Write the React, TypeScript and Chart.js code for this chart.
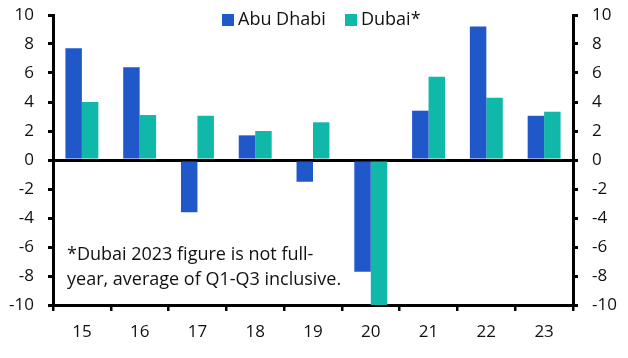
import React, { useEffect, useRef } from "react";
import { Chart, registerables } from "chart.js";

Chart.register(...registerables);

const categories = ["15", "16", "17", "18", "19", "20", "21", "22", "23"];
const abuDhabi = [7.7, 6.4, -3.6, 1.7, -1.5, -7.7, 3.4, 9.2, 3.05];
const dubai = [4.0, 3.1, 3.05, 2.0, 2.6, -10, 5.75, 4.3, 3.33];
const seriesNames = ["Abu Dhabi", "Dubai*"];
const seriesColors = ["#2058c9", "#0fb8a9"];
const noteLines = ["*Dubai 2023 figure is not full-", "year, average of Q1-Q3 inclusive."];

const FONT = "'Open Sans', Lato, sans-serif";
const FSIZE = 17;
const TEXT_SIZE = 18;
const TEXT = "#111111";

const overlay = {
  id: "overlay",
  afterDraw(chart: any) {
    const ctx = chart.ctx;
    const area = chart.chartArea;
    ctx.save();
    ctx.font = `${TEXT_SIZE}px ${FONT}`;
    ctx.textBaseline = "middle";
    ctx.textAlign = "left";
    const legendY = 20;
    const boxX = [222, 345];
    seriesNames.forEach((name, i) => {
      ctx.fillStyle = seriesColors[i];
      ctx.fillRect(boxX[i], legendY - 6, 12, 12);
      ctx.fillStyle = TEXT;
      ctx.fillText(name, boxX[i] + 16, legendY);
    });
    ctx.fillText(noteLines[0], area.left + 14, 255);
    ctx.fillText(noteLines[1], area.left + 14, 280);
    ctx.restore();
  },
};

export default function App() {
  const ref = useRef<HTMLCanvasElement | null>(null);
  useEffect(() => {
    document.body.style.margin = "0";
    const canvas = ref.current!;
    const yCommon = {
      min: -10,
      max: 10,
      border: { display: true, color: "#000", width: 3 },
      ticks: {
        stepSize: 2,
        color: TEXT,
        font: { family: FONT, size: FSIZE },
        padding: 14,
      },
    };
    const chart = new Chart(canvas, {
      type: "bar",
      data: {
        labels: categories,
        datasets: [
          { label: seriesNames[0], data: abuDhabi, backgroundColor: seriesColors[0], yAxisID: "y" },
          { label: seriesNames[1], data: dubai, backgroundColor: seriesColors[1], yAxisID: "y" },
        ],
      },
      plugins: [overlay],
      options: {
        responsive: false,
        animation: false,
        layout: { padding: { top: 15, left: 0, right: 0, bottom: 0 } },
        datasets: { bar: { categoryPercentage: 0.57, barPercentage: 1 } },
        plugins: { legend: { display: false }, tooltip: { enabled: false } },
        scales: {
          x: {
            position: "bottom",
            border: { display: true, color: "#000", width: 3 },
            grid: {
              offset: true,
              drawOnChartArea: false,
              drawTicks: true,
              tickLength: 6,
              tickColor: "#000",
              lineWidth: 2.5,
            },
            ticks: { color: TEXT, font: { family: FONT, size: FSIZE }, padding: 11 },
            afterFit(scale: any) {
              scale.height = 53;
              scale.paddingLeft = 0;
              scale.paddingRight = 0;
            },
          },
          y: {
            ...yCommon,
            position: "left",
            grid: {
              drawOnChartArea: true,
              drawTicks: true,
              tickLength: 5,
              tickColor: "#000",
              color: (c: any) => (c.tick && c.tick.value === 0 ? "#000" : "rgba(0,0,0,0)"),
              lineWidth: 3,
            },
            afterFit(scale: any) {
              scale.width = 53;
              scale.paddingTop = 0;
              scale.paddingBottom = 0;
            },
          },
          y2: {
            ...yCommon,
            position: "right",
            grid: {
              drawOnChartArea: false,
              drawTicks: true,
              tickLength: 5,
              tickColor: "#000",
              lineWidth: 3,
            },
            afterFit(scale: any) {
              scale.width = 55;
              scale.paddingTop = 0;
              scale.paddingBottom = 0;
            },
          },
        },
      } as any,
    });
    return () => chart.destroy();
  }, []);
  return (
    <div style={{ width: 628, height: 358 }}>
      <canvas ref={ref} width={628} height={358} style={{ display: "block" }} />
    </div>
  );
}
